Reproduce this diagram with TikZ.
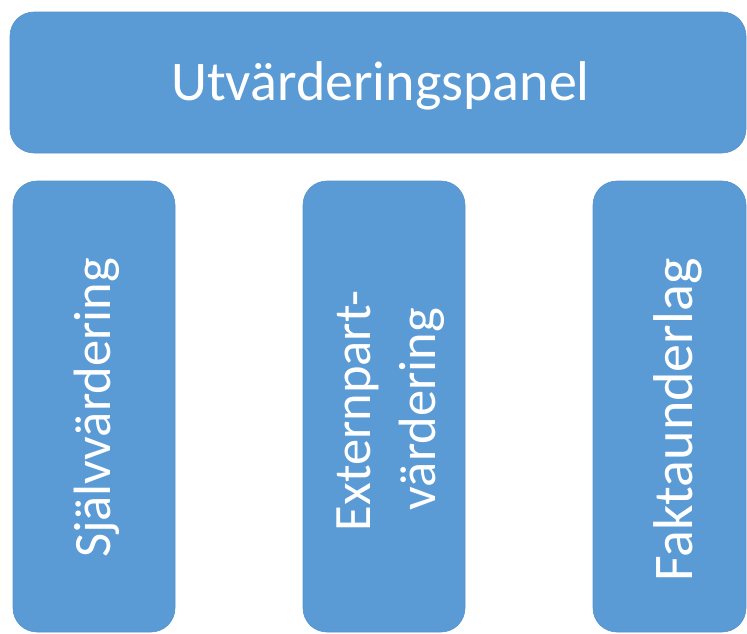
\documentclass[tikz,border=0pt]{standalone}
\usepackage{fontspec}
\setmainfont{Carlito}
\definecolor{boxblue}{HTML}{5B9BD5}
\definecolor{boxedge}{HTML}{5592CB}
\begin{document}
\begin{tikzpicture}[x=1pt,y=-1pt,
  panel/.style={draw=boxedge,line width=0.6pt,fill=boxblue,rounded corners=24pt,inner sep=0pt},
  lbl/.style={text=white,font=\fontsize{56}{66}\selectfont,inner sep=0pt,anchor=base},
  vlbl/.style={lbl,rotate=90},
  small/.style={font=\fontsize{52.5}{63}\selectfont}]
\useasboundingbox (0,0) rectangle (747,633);
\node[panel,minimum width=736pt,minimum height=141pt] (top) at (378,82.5) {};
\node[panel,minimum width=162pt,minimum height=451pt] (left) at (94,406.5) {};
\node[panel,minimum width=162pt,minimum height=451pt] (mid) at (384,406.5) {};
\node[panel,minimum width=153pt,minimum height=451pt] (right) at (669.5,406.5) {};
\node[lbl] (ttop) at (380.5,100) {Utvärderingspanel};
\node[vlbl,small] (tleft) at (110,408) {Självvärdering};
\node[vlbl,small] (tmid1) at (370,411) {Externpart-};
\node[vlbl,small] (tmid2) at (435,409) {värdering};
\node[vlbl] (tright) at (692,420) {Faktaunderlag};
\end{tikzpicture}
\end{document}
